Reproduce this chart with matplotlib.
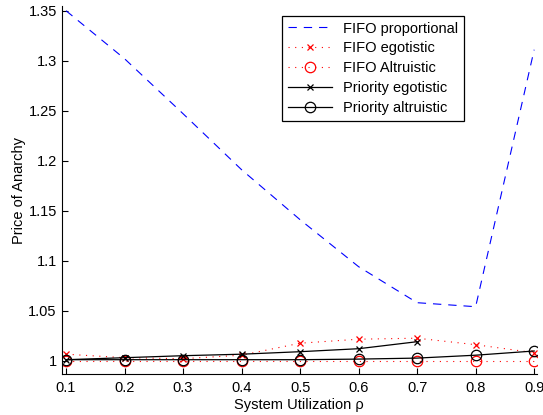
import numpy as np
import matplotlib
matplotlib.use("Agg")
import matplotlib.pyplot as plt

plt.rcParams['font.family'] = ['Liberation Sans', 'DejaVu Sans']
plt.rcParams['lines.scale_dashes'] = False

# data
rho = [0.1, 0.2, 0.3, 0.4, 0.5, 0.6, 0.7, 0.8, 0.9]
fifo_prop = [1.350, 1.302, 1.247, 1.191, 1.141, 1.094, 1.058, 1.054, 1.311]
fifo_ego = [1.0065, 1.003, 1.002, 1.0055, 1.0175, 1.0215, 1.0225, 1.0160, 1.0080]
fifo_alt = [1.0, 1.0, 1.0, 1.0, 1.0, 1.0, 1.0, 1.0, 1.0]
prio_rho = [0.1, 0.2, 0.3, 0.4, 0.5, 0.6, 0.7]
prio_ego = [1.001, 1.003, 1.005, 1.0065, 1.009, 1.012, 1.019]
prio_alt = [1.001, 1.001, 1.001, 1.001, 1.001, 1.0016, 1.0026, 1.0055, 1.0097]

yticks = [1, 1.05, 1.1, 1.15, 1.2, 1.25, 1.3, 1.35]
yticklabels = ['1', '1.05', '1.1', '1.15', '1.2', '1.25', '1.3', '1.35']

fig = plt.figure(figsize=(5.43, 4.15), dpi=100)
ax = fig.add_axes([0.1136, 0.0988, 0.875, 0.8867])

ax.plot(rho, fifo_prop, color='blue', lw=0.8, dashes=(6, 5), label='FIFO proportional')
ax.plot(rho, fifo_ego, color='red', lw=0.8, dashes=(0.8, 4), marker='x', ms=5,
        mew=0.9, label='FIFO egotistic')
ax.plot(rho, fifo_alt, color='red', lw=0.8, dashes=(0.8, 4), marker='o', ms=7.5,
        mfc='none', mew=0.9, label='FIFO Altruistic')
ax.plot(prio_rho, prio_ego, color='black', lw=0.9, marker='x', ms=5, mew=0.9,
        label='Priority egotistic')
ax.plot(rho, prio_alt, color='black', lw=0.9, marker='o', ms=7.5, mfc='none',
        mew=0.9, label='Priority altruistic')

ax.set_xlim(0.0926, 0.9045)
ax.set_ylim(0.9867, 1.3547)
ax.set_xticks(rho)
ax.set_xticklabels([str(r) for r in rho])
ax.set_yticks(yticks)
ax.set_yticklabels(yticklabels)
ax.tick_params(direction='in', length=4, labelsize=10.5, width=0.8)
ax.tick_params(axis='x', pad=5)
ax.spines['top'].set_visible(False)
ax.spines['right'].set_visible(False)
ax.set_xlabel('System Utilization ρ', fontsize=10.5, labelpad=2)
ax.set_ylabel('Price of Anarchy', fontsize=10.5, labelpad=2)

leg = ax.legend(loc='upper left', bbox_to_anchor=(282 / 543, 1 - 15.7 / 415),
                bbox_transform=fig.transFigure, borderaxespad=0, fontsize=10.5,
                handlelength=3.0, labelspacing=0.4, fancybox=False,
                framealpha=1, edgecolor='black')
leg.get_frame().set_linewidth(0.9)

fig.savefig('out.png', dpi=100)
